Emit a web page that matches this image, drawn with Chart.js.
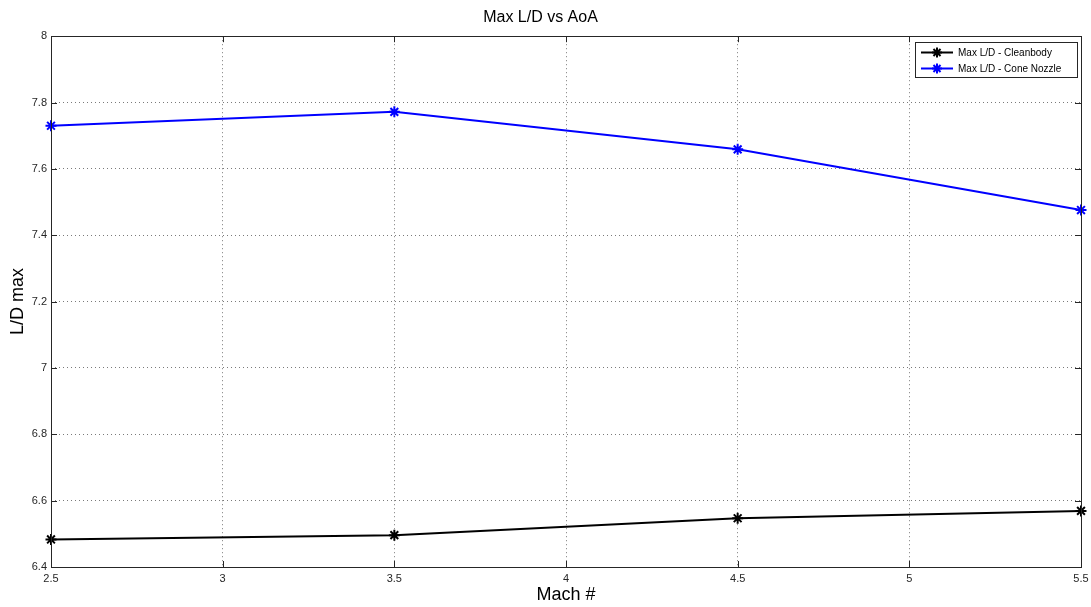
<!DOCTYPE html>
<html>
<head>
<meta charset="utf-8">
<script src="https://cdn.jsdelivr.net/npm/chart.js@4/dist/chart.umd.min.js"></script>
<style>
  html, body { margin: 0; padding: 0; background: #fff; }
  #wrap { width: 1091px; height: 607px; }
</style>
</head>
<body>
<div id="wrap"><canvas id="c" width="1091" height="607"></canvas></div>
<script>
// Mach numbers on the x axis
const machNumbers = [2.5, 3.5, 4.5, 5.5];
// Maximum lift-to-drag ratio per configuration
const cleanbodyLD = [6.483, 6.496, 6.547, 6.569];
const coneNozzleLD = [7.730, 7.772, 7.659, 7.476];
// Axis tick values
const xTicks = [2.5, 3, 3.5, 4, 4.5, 5, 5.5];
const yTicks = [6.4, 6.6, 6.8, 7, 7.2, 7.4, 7.6, 7.8, 8];

const seriesNames = ['Max L/D - Cleanbody', 'Max L/D - Cone Nozzle'];
const FONT = 'Liberation Sans, Arial, sans-serif';
const AXIS_COLOR = '#262626';
const TICK_TEXT = '#262626';

function toPoints(xs, ys) { return xs.map((x, i) => ({ x: x, y: ys[i] })); }

// Box around the plot with inward tick marks on all four sides, plus a boxed legend
const boxPlugin = {
  id: 'matlabBox',
  afterDatasetsDraw(chart) {
    const { ctx, chartArea: a, scales } = chart;
    ctx.save();
    ctx.strokeStyle = AXIS_COLOR;
    ctx.lineWidth = 1;
    const L = 6;
    ctx.beginPath();
    xTicks.forEach(v => {
      const px = Math.round(scales.x.getPixelForValue(v)) + 0.5;
      ctx.moveTo(px, a.bottom); ctx.lineTo(px, a.bottom - L);
      ctx.moveTo(px, a.top); ctx.lineTo(px, a.top + L);
    });
    yTicks.forEach(v => {
      const py = Math.round(scales.y.getPixelForValue(v)) + 0.5;
      ctx.moveTo(a.left, py); ctx.lineTo(a.left + L, py);
      ctx.moveTo(a.right, py); ctx.lineTo(a.right - L, py);
    });
    ctx.stroke();
    ctx.strokeRect(Math.round(a.left) + 0.5, Math.round(a.top) + 0.5,
                   Math.round(a.right - a.left), Math.round(a.bottom - a.top));

    // legend
    const lx = 915.5, ly = 42.5, lw = 162, lh = 35;
    ctx.fillStyle = '#fff';
    ctx.fillRect(lx, ly, lw, lh);
    ctx.strokeStyle = AXIS_COLOR;
    ctx.lineWidth = 1;
    ctx.strokeRect(lx, ly, lw, lh);
    ctx.font = '10px ' + FONT;
    ctx.textBaseline = 'middle';
    ctx.textAlign = 'left';
    chart.data.datasets.forEach((ds, i) => {
      const y = 52.5 + i * 16;
      ctx.strokeStyle = ds.borderColor;
      ctx.fillStyle = ds.borderColor;
      ctx.lineWidth = 2;
      ctx.beginPath();
      ctx.moveTo(921, y); ctx.lineTo(953, y);
      ctx.stroke();
      Chart.helpers.drawPoint(ctx, { pointStyle: 'star', radius: 5, rotation: 0, borderWidth: 2 }, 937, y);
      ctx.fillStyle = '#000';
      ctx.fillText(ds.label, 958, y + 0.5);
    });
    ctx.restore();
  }
};

function starStyle(color) {
  return {
    borderColor: color,
    backgroundColor: color,
    pointBorderColor: color,
    pointBackgroundColor: color,
    pointStyle: 'star',
    pointRadius: 5.5,
    pointBorderWidth: 2,
    borderWidth: 2,
    tension: 0,
    clip: false
  };
}

new Chart(document.getElementById('c'), {
  type: 'line',
  data: {
    datasets: [
      Object.assign({ label: seriesNames[0], data: toPoints(machNumbers, cleanbodyLD) }, starStyle('#000000')),
      Object.assign({ label: seriesNames[1], data: toPoints(machNumbers, coneNozzleLD) }, starStyle('#0000ff'))
    ]
  },
  plugins: [boxPlugin],
  options: {
    responsive: false,
    animation: false,
    layout: { autoPadding: false, padding: { top: 0, right: 10, bottom: 0, left: 0 } },
    plugins: {
      legend: { display: false },
      tooltip: { enabled: false },
      title: {
        display: true,
        text: 'Max L/D vs AoA',
        color: '#000',
        font: { family: FONT, size: 16, weight: 'normal', lineHeight: 1.2 },
        padding: { top: 8, bottom: 9 }
      }
    },
    scales: {
      x: {
        type: 'linear',
        min: 2.5, max: 5.5,
        afterBuildTicks(scale) { scale.ticks = xTicks.map(v => ({ value: v })); },
        afterFit(scale) { scale.height = 40; scale.paddingLeft = 0; scale.paddingRight = 0; },
        ticks: {
          color: TICK_TEXT,
          font: { family: FONT, size: 11 },
          padding: 5,
          maxRotation: 0,
          autoSkip: false,
          callback: v => String(v)
        },
        grid: { color: '#7a7a7a', lineWidth: 1, drawTicks: false },
        border: { display: false, dash: [1, 3] },
        title: {
          display: true,
          text: 'Mach #',
          color: '#000',
          font: { family: FONT, size: 18, lineHeight: 1.2 },
          padding: { top: 0, bottom: 1 }
        }
      },
      y: {
        type: 'linear',
        min: 6.4, max: 8,
        afterBuildTicks(scale) { scale.ticks = yTicks.map(v => ({ value: v })); },
        afterFit(scale) { scale.width = 51; scale.paddingTop = 0; scale.paddingBottom = 0; },
        ticks: {
          color: TICK_TEXT,
          font: { family: FONT, size: 11 },
          padding: 4,
          autoSkip: false,
          callback: v => String(Math.round(v * 10) / 10)
        },
        grid: { color: '#7a7a7a', lineWidth: 1, drawTicks: false },
        border: { display: false, dash: [1, 3] },
        title: {
          display: true,
          text: 'L/D max',
          color: '#000',
          font: { family: FONT, size: 18, lineHeight: 1.2 },
          padding: { top: 7, bottom: 0 }
        }
      }
    }
  }
});
</script>
</body>
</html>
